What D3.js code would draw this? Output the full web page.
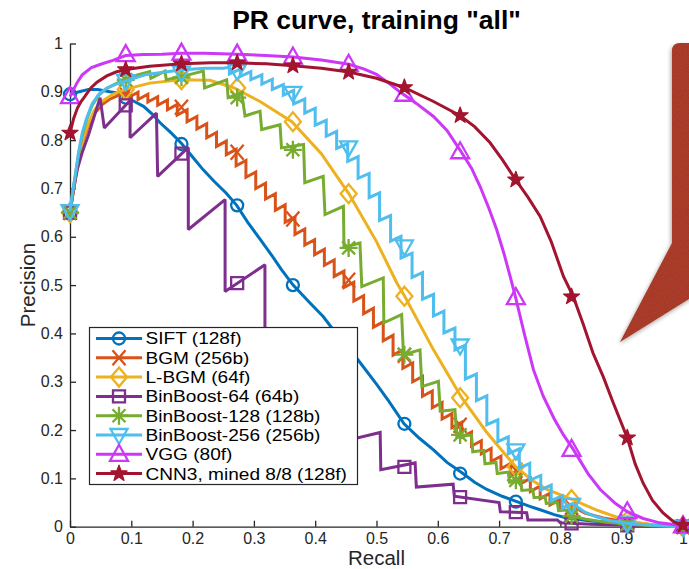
<!DOCTYPE html>
<html><head><meta charset="utf-8">
<script src="https://cdn.jsdelivr.net/npm/d3@7"></script>
<style>
body{margin:0;background:#fff;}
svg{display:block;}
text{font-family:"Liberation Sans",Arial,Helvetica,sans-serif;}
</style>
</head><body>
<svg id="c" width="689" height="569"></svg>
<script>
// ---------------- data ----------------
const tickValues = [0,0.1,0.2,0.3,0.4,0.5,0.6,0.7,0.8,0.9,1];
const tickLabels = ["0","0.1","0.2","0.3","0.4","0.5","0.6","0.7","0.8","0.9","1"];
const markerRecall = [0,0.0909,0.1818,0.2727,0.3636,0.4545,0.5455,0.6364,0.7273,0.8182,0.9091,1];

const seriesNames = ["SIFT (128f)","BGM (256b)","L-BGM (64f)","BinBoost-64 (64b)","BinBoost-128 (128b)","BinBoost-256 (256b)","VGG (80f)","CNN3, mined 8/8 (128f)"];

const siftCurve = [[0,0.895],[0.015,0.9],[0.03,0.905],[0.045,0.905],[0.065,0.9],[0.079,0.897],[0.09,0.89],[0.105,0.88],[0.12,0.87],[0.135,0.853],[0.147,0.836],[0.165,0.815],[0.182,0.793],[0.2,0.765],[0.217,0.739],[0.235,0.715],[0.255,0.69],[0.272,0.665],[0.29,0.63],[0.31,0.595],[0.33,0.56],[0.345,0.532],[0.364,0.5],[0.39,0.465],[0.413,0.435],[0.44,0.39],[0.47,0.345],[0.5,0.295],[0.52,0.26],[0.545,0.213],[0.57,0.183],[0.593,0.159],[0.615,0.133],[0.64,0.111],[0.66,0.092],[0.68,0.077],[0.705,0.063],[0.729,0.052],[0.75,0.042],[0.767,0.035],[0.79,0.025],[0.81,0.018],[0.85,0.012],[0.88,0.009],[0.909,0.006],[0.95,0.003],[1,0]];
const siftMarks = [0.895,0.888,0.792,0.665,0.5,0.37,0.213,0.11,0.052,0.02,0.006,0];

const bgmCurve = [[0,0.65],[0.005,0.69],[0.01,0.73],[0.016,0.77],[0.022,0.8],[0.03,0.83],[0.04,0.855],[0.052,0.873],[0.065,0.885],[0.08,0.893],
[0.095,0.901],[0.095,0.888],[0.111,0.899],[0.111,0.884],[0.127,0.895],[0.127,0.879],[0.143,0.89],[0.143,0.872],[0.159,0.883],[0.159,0.863],[0.175,0.874],[0.175,0.852],[0.191,0.863],[0.191,0.838],[0.207,0.849],[0.207,0.823],[0.223,0.834],[0.223,0.805],[0.239,0.816],[0.239,0.787],[0.255,0.798],[0.255,0.77],[0.271,0.781],[0.271,0.747],[0.287,0.758],[0.287,0.723],[0.303,0.734],[0.303,0.7],[0.319,0.711],[0.319,0.678],[0.335,0.689],[0.335,0.655],[0.351,0.666],[0.351,0.63],[0.367,0.641],[0.367,0.605],[0.383,0.616],[0.383,0.583],[0.399,0.594],[0.399,0.563],[0.415,0.574],[0.415,0.541],[0.431,0.552],[0.431,0.518],[0.447,0.529],[0.447,0.495],[0.463,0.506],[0.463,0.467],[0.479,0.478],[0.479,0.441],[0.495,0.452],[0.495,0.413],[0.511,0.424],[0.511,0.385],[0.527,0.396],[0.527,0.355],[0.543,0.366],[0.543,0.328],[0.559,0.339],[0.559,0.3],[0.575,0.311],[0.575,0.27],[0.591,0.281],[0.591,0.246],[0.607,0.257],[0.607,0.223],[0.623,0.234],[0.623,0.205],[0.639,0.216],[0.639,0.185],[0.655,0.196],[0.655,0.167],[0.671,0.178],[0.671,0.151],[0.687,0.162],[0.687,0.135],[0.703,0.146],[0.703,0.12],[0.719,0.131],[0.719,0.105],[0.735,0.116],[0.735,0.089],[0.751,0.1],[0.751,0.073],[0.767,0.084],[0.767,0.058],[0.783,0.069],[0.783,0.045],[0.799,0.056],[0.799,0.035],[0.815,0.046],[0.84,0.028],[0.87,0.018],[0.909,0.01],[0.95,0.004],[1,0]];
const bgmMarks = [0.65,0.895,0.868,0.775,0.637,0.51,0.355,0.21,0.117,0.04,0.01,0];

const lbgmCurve = [[0,0.65],[0.005,0.69],[0.01,0.73],[0.016,0.77],[0.022,0.805],[0.03,0.835],[0.04,0.862],[0.052,0.88],[0.07,0.895],[0.09,0.905],[0.13,0.918],[0.18,0.925],[0.228,0.924],[0.266,0.909],[0.31,0.88],[0.362,0.838],[0.41,0.772],[0.455,0.689],[0.5,0.59],[0.533,0.505],[0.546,0.477],[0.593,0.366],[0.639,0.267],[0.68,0.195],[0.727,0.124],[0.755,0.095],[0.778,0.077],[0.82,0.056],[0.86,0.034],[0.909,0.012],[0.95,0.004],[1,0]];
const lbgmMarks = [0.65,0.905,0.925,0.908,0.838,0.689,0.477,0.267,0.124,0.056,0.012,0];

const bb64Curve = [[0,0.65],[0.006,0.7],[0.012,0.74],[0.02,0.775],[0.03,0.81],[0.049,0.888],[0.056,0.825],[0.098,0.882],[0.098,0.805],[0.141,0.856],[0.143,0.725],[0.193,0.785],[0.193,0.615],[0.253,0.677],[0.253,0.487],[0.318,0.542],[0.318,0.36],[0.38,0.41],[0.38,0.26],[0.44,0.3],[0.44,0.175],[0.506,0.195],[0.507,0.118],[0.563,0.132],[0.565,0.082],[0.625,0.088],[0.627,0.063],[0.7,0.05],[0.702,0.031],[0.745,0.029],[0.747,0.014],[0.795,0.014],[0.8,0.008],[0.85,0.005],[0.909,0.003],[1,0]];
const bb64Marks = [0.65,0.872,0.772,0.504,0.397,0.18,0.124,0.061,0.03,0.007,0.003,0];

const bb128Curve = [[0,0.65],[0.004,0.69],[0.009,0.73],[0.014,0.772],[0.02,0.81],[0.027,0.842],[0.036,0.872],[0.047,0.893],[0.06,0.907],[0.075,0.917],[0.09,0.925],[0.11,0.935],[0.13,0.942],[0.132,0.928],[0.155,0.943],[0.157,0.925],[0.183,0.932],[0.2175,0.943],[0.2195,0.908],[0.2556,0.925],[0.258,0.888],[0.28,0.898],[0.2855,0.85],[0.31,0.86],[0.3127,0.822],[0.3426,0.832],[0.345,0.784],[0.381,0.791],[0.383,0.712],[0.413,0.725],[0.416,0.646],[0.446,0.663],[0.447,0.578],[0.473,0.587],[0.476,0.497],[0.511,0.515],[0.512,0.422],[0.541,0.439],[0.544,0.356],[0.571,0.366],[0.574,0.29],[0.601,0.301],[0.604,0.239],[0.628,0.242],[0.631,0.185],[0.655,0.19],[0.657,0.155],[0.675,0.158],[0.677,0.13],[0.695,0.133],[0.697,0.11],[0.715,0.113],[0.717,0.092],[0.735,0.095],[0.737,0.075],[0.755,0.077],[0.757,0.06],[0.775,0.062],[0.777,0.048],[0.795,0.05],[0.797,0.033],[0.815,0.035],[0.817,0.022],[0.84,0.016],[0.87,0.01],[0.909,0.005],[0.95,0.002],[1,0]];
const bb128Marks = [0.65,0.925,0.93,0.888,0.78,0.577,0.356,0.19,0.096,0.022,0.005,0];

const bb256Curve = [[0,0.653],[0.004,0.69],[0.009,0.73],[0.014,0.775],[0.02,0.815],[0.027,0.845],[0.036,0.875],[0.047,0.895],[0.06,0.908],[0.075,0.916],[0.09,0.922],[0.125,0.936],[0.18,0.945],[0.22,0.949],[0.25,0.949],
[0.26,0.951],[0.26,0.937],[0.278,0.947],[0.278,0.932],[0.295,0.942],[0.295,0.925],[0.313,0.935],[0.313,0.916],[0.33,0.926],[0.33,0.905],[0.348,0.915],[0.348,0.893],[0.365,0.903],[0.365,0.875],[0.383,0.885],[0.383,0.856],[0.4,0.866],[0.4,0.831],[0.418,0.841],[0.418,0.808],[0.435,0.818],[0.435,0.783],[0.453,0.793],[0.453,0.756],[0.47,0.766],[0.47,0.721],[0.488,0.731],[0.488,0.681],[0.505,0.691],[0.505,0.634],[0.523,0.644],[0.523,0.591],[0.54,0.601],[0.54,0.556],[0.558,0.566],[0.558,0.516],[0.575,0.526],[0.575,0.471],[0.593,0.481],[0.593,0.436],[0.61,0.446],[0.61,0.401],[0.628,0.411],[0.628,0.366],[0.645,0.376],[0.645,0.306],[0.663,0.316],[0.663,0.261],[0.68,0.271],[0.68,0.211],[0.698,0.221],[0.698,0.176],[0.715,0.186],[0.715,0.151],[0.733,0.161],[0.733,0.121],[0.75,0.131],[0.75,0.096],[0.768,0.106],[0.768,0.076],[0.785,0.086],[0.785,0.054],[0.803,0.064],[0.803,0.038],[0.82,0.048],[0.84,0.03],[0.86,0.02],[0.88,0.013],[0.909,0.007],[0.95,0.003],[1,0]];
const bb256Marks = [0.653,0.922,0.94,0.943,0.898,0.785,0.58,0.375,0.158,0.045,0.007,0];

const vggCurve = [[0,0.89],[0.006,0.905],[0.012,0.92],[0.02,0.935],[0.035,0.95],[0.05,0.957],[0.07,0.965],[0.091,0.975],[0.12,0.977],[0.15,0.978],[0.182,0.98],[0.22,0.98],[0.273,0.978],[0.32,0.975],[0.364,0.972],[0.41,0.966],[0.455,0.957],[0.48,0.947],[0.5,0.936],[0.52,0.918],[0.538,0.9],[0.565,0.876],[0.593,0.849],[0.615,0.82],[0.636,0.78],[0.655,0.742],[0.669,0.704],[0.683,0.66],[0.696,0.615],[0.708,0.565],[0.718,0.518],[0.727,0.474],[0.742,0.395],[0.756,0.325],[0.772,0.27],[0.79,0.223],[0.805,0.19],[0.821,0.16],[0.845,0.11],[0.865,0.077],[0.89,0.048],[0.909,0.031],[0.935,0.017],[0.962,0.008],[1,0.002]];
const vggMarks = [0.89,0.977,0.98,0.978,0.972,0.957,0.895,0.776,0.474,0.16,0.031,0.002];

const cnnCurve = [[0,0.815],[0.006,0.845],[0.012,0.866],[0.018,0.88],[0.024,0.89],[0.034,0.908],[0.044,0.92],[0.06,0.933],[0.075,0.941],[0.091,0.946],[0.13,0.953],[0.182,0.958],[0.23,0.96],[0.273,0.96],[0.32,0.958],[0.364,0.954],[0.41,0.949],[0.455,0.941],[0.5,0.928],[0.545,0.909],[0.593,0.88],[0.636,0.851],[0.66,0.828],[0.685,0.795],[0.705,0.76],[0.727,0.718],[0.747,0.682],[0.767,0.642],[0.785,0.59],[0.805,0.518],[0.821,0.476],[0.837,0.42],[0.853,0.36],[0.87,0.31],[0.886,0.257],[0.909,0.184],[0.922,0.13],[0.935,0.09],[0.95,0.055],[0.967,0.029],[0.985,0.01],[1,0.003]];
const cnnMarks = [0.815,0.946,0.958,0.96,0.954,0.941,0.909,0.851,0.718,0.476,0.184,0.003];

const seriesCurves = [siftCurve,bgmCurve,lbgmCurve,bb64Curve,bb128Curve,bb256Curve,vggCurve,cnnCurve];
const seriesMarks = [siftMarks,bgmMarks,lbgmMarks,bb64Marks,bb128Marks,bb256Marks,vggMarks,cnnMarks];
const seriesColors = ["#0072BD","#D95319","#EDB120","#7E2F8E","#77AC30","#4DBEEE","#CC38F5","#A2142F"];
const seriesMarkerTypes = ["circle","x","diamond","square","asterisk","tridown","triup","star"];

// ---------------- drawing ----------------
const svg = d3.select("#c");
const x = d3.scaleLinear().domain([0,1]).range([70,683]);
const y = d3.scaleLinear().domain([0,1]).range([526.7,43.5]);
const axisColor = "#262626";

// defs: texture + shadow for callout
const defs = svg.append("defs");
const f = defs.append("filter").attr("id","paper").attr("x","-20%").attr("y","-10%").attr("width","140%").attr("height","130%");
f.append("feTurbulence").attr("type","fractalNoise").attr("baseFrequency","0.9").attr("numOctaves","2").attr("seed","3").attr("result","noise");
f.append("feColorMatrix").attr("in","noise").attr("type","matrix")
  .attr("values","0 0 0 0 0  0 0 0 0 0  0 0 0 0 0  0 0 0 0.35 -0.05").attr("result","dark");
f.append("feComposite").attr("in","dark").attr("in2","SourceGraphic").attr("operator","in").attr("result","tex");
f.append("feDropShadow").attr("in","SourceGraphic").attr("dx","-1").attr("dy","2").attr("stdDeviation","2").attr("flood-color","#000").attr("flood-opacity","0.35").attr("result","sh");
const fm = f.append("feMerge");
fm.append("feMergeNode").attr("in","sh");
fm.append("feMergeNode").attr("in","tex");

// axes
const xAxis = d3.axisBottom(x).tickValues(tickValues).tickFormat((d,i)=>tickLabels[i])
  .tickSizeInner(-6).tickSizeOuter(0).tickPadding(6);
const yAxis = d3.axisLeft(y).tickValues(tickValues).tickFormat((d,i)=>tickLabels[i])
  .tickSizeInner(-6).tickSizeOuter(0).tickPadding(7);

const gx = svg.append("g").attr("transform",`translate(0,${y(0)})`).call(xAxis);
const gy = svg.append("g").attr("transform",`translate(${x(0)},0)`).call(yAxis);
[gx,gy].forEach(g=>{
  g.select(".domain").attr("stroke",axisColor).attr("stroke-width",1.3);
  g.selectAll(".tick line").attr("stroke",axisColor).attr("stroke-width",1.3);
  g.selectAll(".tick text").attr("fill",axisColor).style("font-size","16px")
   .style("font-family",'"Liberation Sans",Arial,sans-serif');
});

// labels
svg.append("text").attr("x",376.5).attr("y",29).attr("text-anchor","middle")
  .style("font-size","26.5px").style("font-weight","bold").attr("fill","#000")
  .text('PR curve, training "all"');
svg.append("text").attr("x",376.5).attr("y",565).attr("text-anchor","middle")
  .style("font-size","20.5px").attr("fill",axisColor).text("Recall");
svg.append("text").attr("transform","translate(35,285) rotate(-90)").attr("text-anchor","middle")
  .style("font-size","20.5px").attr("fill",axisColor).text("Precision");

// marker drawing
function starPath(R, r){
  let p = "";
  for(let k=0;k<10;k++){
    const rad = k%2===0 ? R : r;
    const a = -Math.PI/2 + k*Math.PI/5;
    p += (k===0?"M":"L") + (rad*Math.cos(a)).toFixed(2) + "," + (rad*Math.sin(a)).toFixed(2);
  }
  return p + "Z";
}
const markerPaths = {
  x: "M-6.5,-7.5L6.5,7.5M-6.5,7.5L6.5,-7.5",
  diamond: "M0,-9.5L8,0L0,9.5L-8,0Z",
  square: "M-6,-6H6V6H-6Z",
  asterisk: "M0,-9V9M-9,0H9M-6.5,-6.5L6.5,6.5M-6.5,6.5L6.5,-6.5",
  tridown: "M-8.5,-6H8.5L0,9Z",
  triup: "M-9,6.5H9L0,-9.5Z",
  star: starPath(8.5,3.5)
};
function drawMarker(g, type, cx, cy, color){
  if(type==="circle"){
    g.append("circle").attr("cx",cx).attr("cy",cy).attr("r",6)
      .attr("fill","none").attr("stroke",color).attr("stroke-width",2.3);
  } else if(type==="star"){
    g.append("path").attr("d",markerPaths.star).attr("transform",`translate(${cx},${cy})`)
      .attr("fill",color).attr("stroke",color).attr("stroke-width",1.2).attr("stroke-linejoin","round");
  } else {
    g.append("path").attr("d",markerPaths[type]).attr("transform",`translate(${cx},${cy})`)
      .attr("fill","none").attr("stroke",color).attr("stroke-width",2.3).attr("stroke-linejoin","miter");
  }
}

const line = d3.line().x(d=>x(d[0])).y(d=>y(d[1]));
seriesCurves.forEach((curve,i)=>{
  const g = svg.append("g");
  g.append("path").datum(curve).attr("d",line).attr("fill","none")
    .attr("stroke",seriesColors[i]).attr("stroke-width",3)
    .attr("stroke-linejoin","miter").attr("stroke-miterlimit",2);
  seriesMarks[i].forEach((p,k)=>{
    drawMarker(g, seriesMarkerTypes[i], x(markerRecall[k]), y(p), seriesColors[i]);
  });
});

// legend
const lg = svg.append("g");
lg.append("rect").attr("x",89.5).attr("y",327.5).attr("width",268).attr("height",157)
  .attr("fill","#fff").attr("stroke",axisColor).attr("stroke-width",1.2);
seriesNames.forEach((name,i)=>{
  const cy = 338.5 + i*19.3;
  lg.append("line").attr("x1",96).attr("x2",142).attr("y1",cy).attr("y2",cy)
    .attr("stroke",seriesColors[i]).attr("stroke-width",3);
  drawMarker(lg, seriesMarkerTypes[i], 119, cy, seriesColors[i]);
  lg.append("text").attr("transform",`translate(145.5,${cy}) scale(1.15,1)`).attr("dy","0.36em")
    .style("font-size","16.6px").attr("fill","#000").text(name);
});

// callout shape on the right
svg.append("path")
  .attr("d","M700,43 L680,43 Q672,43 672,51 L672,243 L620,342 L700,292 Z")
  .attr("fill","#B3412E").attr("filter","url(#paper)");
</script>
</body></html>
